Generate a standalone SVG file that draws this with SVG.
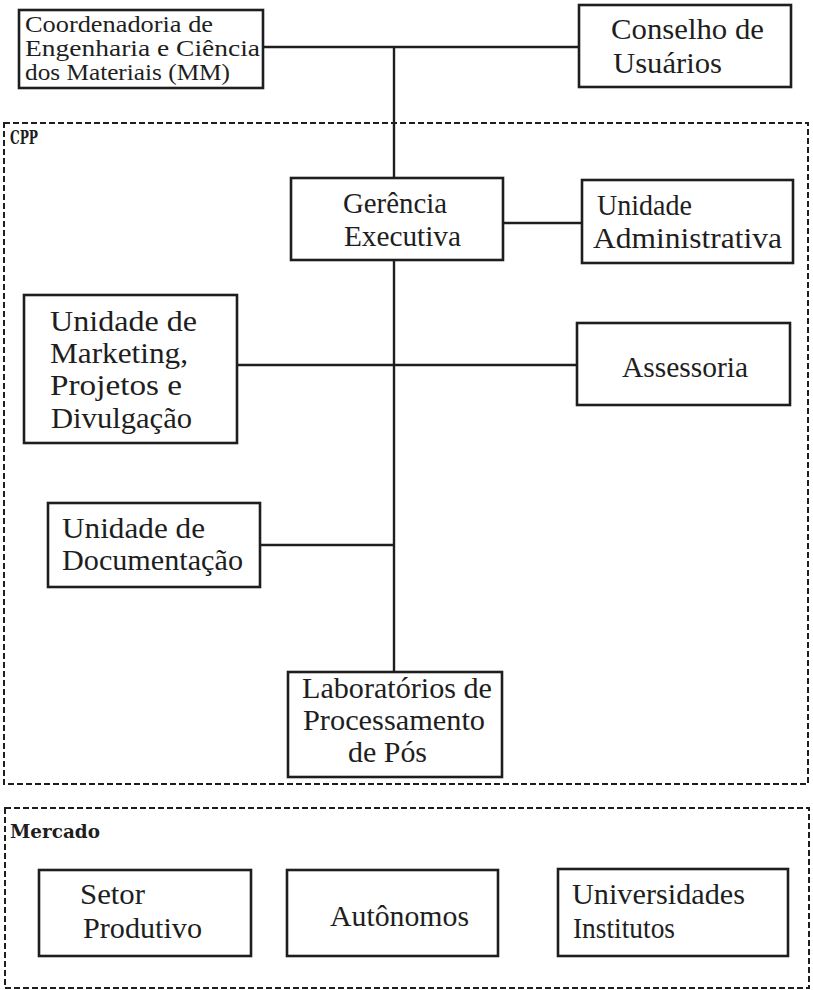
<svg xmlns="http://www.w3.org/2000/svg" width="813" height="990" viewBox="0 0 813 990">
<style>
.box{fill:#fff;stroke:#1e1e1e;stroke-width:2.6}
.dash{fill:none;stroke:#1e1e1e;stroke-width:2;stroke-dasharray:6 3}
.ln{fill:none;stroke:#1e1e1e;stroke-width:2.4}
.t{font-family:"Liberation Serif","Times New Roman",serif;font-size:30px;fill:#1e1e1e}
.ts{font-family:"Liberation Serif","Times New Roman",serif;font-size:23px;fill:#1e1e1e}
.lbl{font-family:"DejaVu Serif",serif;font-weight:bold;font-size:18px;fill:#1e1e1e}
</style>
<rect width="813" height="990" fill="#fff"/>
<g id="cpp-group">
<rect class="dash" x="4" y="123" width="804" height="661"/>
<text class="lbl" x="10" y="144" textLength="28" lengthAdjust="spacingAndGlyphs">CPP</text>
</g>
<g id="mercado-group">
<rect class="dash" x="5" y="808" width="804" height="180"/>
<text class="lbl" x="10" y="838" textLength="90" lengthAdjust="spacingAndGlyphs">Mercado</text>
</g>
<g id="connectors">
<line class="ln" x1="263" y1="47" x2="579" y2="47"/>
<line class="ln" x1="394" y1="47" x2="394" y2="178" stroke-width="2"/>
<line class="ln" x1="394" y1="260" x2="394" y2="672" stroke-width="2"/>
<line class="ln" x1="503" y1="223" x2="582" y2="223" stroke-width="3"/>
<line class="ln" x1="237" y1="365" x2="577" y2="365"/>
<line class="ln" x1="260" y1="545" x2="394" y2="545" stroke-width="3"/>
</g>
<g id="coordenadoria">
<rect class="box" x="19" y="10" width="244" height="78"/>
<text class="ts" x="25" y="32" textLength="188" lengthAdjust="spacingAndGlyphs">Coordenadoria de</text>
<text class="ts" x="25" y="56" textLength="235" lengthAdjust="spacingAndGlyphs">Engenharia e Ciência</text>
<text class="ts" x="25" y="80" textLength="205" lengthAdjust="spacingAndGlyphs">dos Materiais (MM)</text>
</g>
<g id="conselho">
<rect class="box" x="579" y="5" width="212" height="82"/>
<text class="t" x="611" y="39" textLength="153" lengthAdjust="spacingAndGlyphs">Conselho de</text>
<text class="t" x="613" y="73" textLength="109" lengthAdjust="spacingAndGlyphs">Usuários</text>
</g>
<g id="gerencia">
<rect class="box" x="291" y="178" width="212" height="82"/>
<text class="t" x="343" y="213" textLength="104" lengthAdjust="spacingAndGlyphs">Gerência</text>
<text class="t" x="344" y="246" textLength="117" lengthAdjust="spacingAndGlyphs">Executiva</text>
</g>
<g id="unidade-administrativa">
<rect class="box" x="582" y="180" width="211" height="83"/>
<text class="t" x="597" y="215" textLength="95" lengthAdjust="spacingAndGlyphs">Unidade</text>
<text class="t" x="593" y="248" textLength="189" lengthAdjust="spacingAndGlyphs">Administrativa</text>
</g>
<g id="marketing">
<rect class="box" x="24" y="295" width="213" height="148"/>
<text class="t" x="50" y="331" textLength="147" lengthAdjust="spacingAndGlyphs">Unidade de</text>
<text class="t" x="50" y="363" textLength="138" lengthAdjust="spacingAndGlyphs">Marketing,</text>
<text class="t" x="50" y="395" textLength="132" lengthAdjust="spacingAndGlyphs">Projetos e</text>
<text class="t" x="51" y="428" textLength="141" lengthAdjust="spacingAndGlyphs">Divulgação</text>
</g>
<g id="assessoria">
<rect class="box" x="577" y="323" width="213" height="82"/>
<text class="t" x="622" y="377" textLength="126" lengthAdjust="spacingAndGlyphs">Assessoria</text>
</g>
<g id="documentacao">
<rect class="box" x="48" y="503" width="212" height="84"/>
<text class="t" x="62" y="538" textLength="143" lengthAdjust="spacingAndGlyphs">Unidade de</text>
<text class="t" x="62" y="570" textLength="181" lengthAdjust="spacingAndGlyphs">Documentação</text>
</g>
<g id="laboratorios">
<rect class="box" x="288" y="672" width="214" height="105"/>
<text class="t" x="302" y="698" textLength="190" lengthAdjust="spacingAndGlyphs">Laboratórios de</text>
<text class="t" x="303" y="730" textLength="182" lengthAdjust="spacingAndGlyphs">Processamento</text>
<text class="t" x="348" y="762" textLength="79" lengthAdjust="spacingAndGlyphs">de Pós</text>
</g>
<g id="setor-produtivo">
<rect class="box" x="39" y="870" width="212" height="86"/>
<text class="t" x="80" y="904" textLength="65" lengthAdjust="spacingAndGlyphs">Setor</text>
<text class="t" x="83" y="938" textLength="119" lengthAdjust="spacingAndGlyphs">Produtivo</text>
</g>
<g id="autonomos">
<rect class="box" x="287" y="870" width="211" height="86"/>
<text class="t" x="330" y="926" textLength="139" lengthAdjust="spacingAndGlyphs">Autônomos</text>
</g>
<g id="universidades">
<rect class="box" x="558" y="869" width="230" height="87"/>
<text class="t" x="572" y="904" textLength="173" lengthAdjust="spacingAndGlyphs">Universidades</text>
<text class="t" x="573" y="938" textLength="102" lengthAdjust="spacingAndGlyphs">Institutos</text>
</g>
</svg>
